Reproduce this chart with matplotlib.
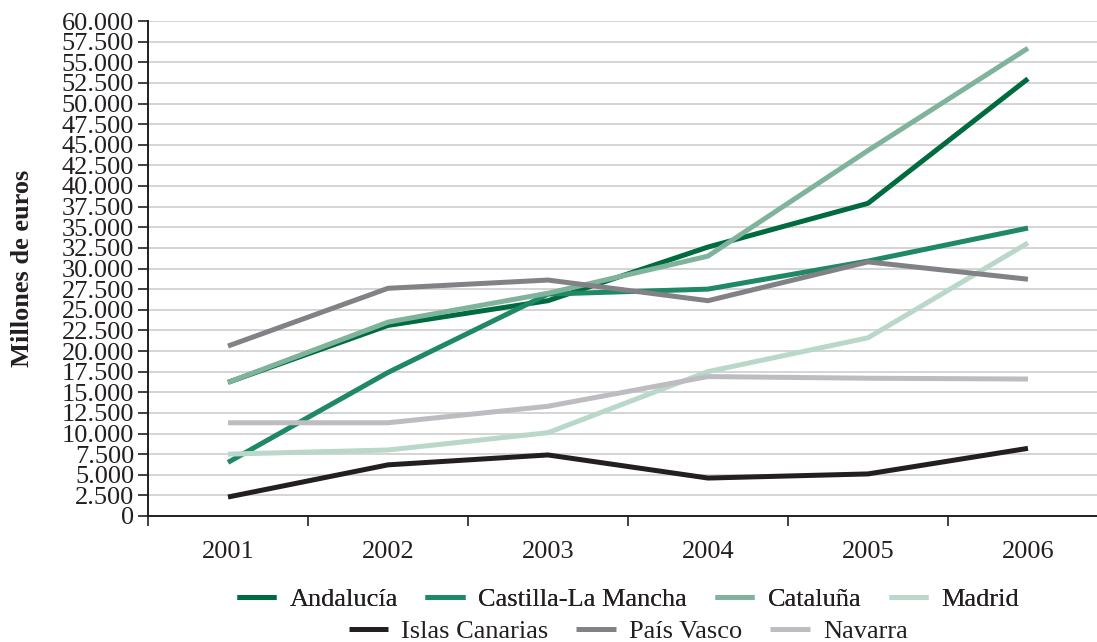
import matplotlib
matplotlib.use("Agg")
from matplotlib import pyplot as plt, ticker
import numpy as np

years = ['2001', '2002', '2003', '2004', '2005', '2006']

andalucia = [16200, 23100, 26100, 32600, 37900, 53000]
castilla = [6500, 17400, 26900, 27500, 30900, 34900]
cataluna = [16200, 23500, 27000, 31500, 44300, 56700]
madrid = [7500, 8000, 10100, 17500, 21600, 33100]
canarias = [2300, 6200, 7400, 4600, 5100, 8200]
pais_vasco = [20600, 27600, 28600, 26100, 30800, 28700]
navarra = [11300, 11300, 13300, 16900, 16700, 16600]

series = [
    ('Andalucía', andalucia, '#006b3f'),
    ('Castilla-La Mancha', castilla, '#1f8865'),
    ('Cataluña', cataluna, '#80b39c'),
    ('Madrid', madrid, '#b9d8c9'),
    ('Islas Canarias', canarias, '#231f20'),
    ('País Vasco', pais_vasco, '#828286'),
    ('Navarra', navarra, '#bdbdc1'),
]

plt.rcParams['font.family'] = ['Liberation Serif', 'DejaVu Serif']

fig = plt.figure(figsize=(10.97, 6.42), dpi=100)
ax = fig.add_axes([148/1097, 1 - 516/642, 1 - 148/1097 + 0.01, (516 - 21)/642])

x = np.arange(len(years))
handles = []
for name, vals, col in series:
    h, = ax.plot(x, vals, color=col, lw=3.6, solid_capstyle='butt', label=name, zorder=3)
    handles.append(h)

ax.set_ylim(0, 60000)
ax.set_xlim(-0.5, 5.5)
ax.yaxis.set_major_locator(ticker.MultipleLocator(2500))
ax.yaxis.set_major_formatter(ticker.FuncFormatter(
    lambda v, p: '0' if v == 0 else f'{int(v):,}'.replace(',', '.')))
ax.grid(axis='y', color='#d4d4d4', lw=1.4, zorder=0)
ax.set_axisbelow(True)

# category boundaries get the tick marks, year labels sit between them
ax.xaxis.set_major_locator(ticker.FixedLocator(np.arange(-0.5, 5.0, 1.0)))
ax.xaxis.set_major_formatter(ticker.NullFormatter())
ax.xaxis.set_minor_locator(ticker.FixedLocator(x))
ax.xaxis.set_minor_formatter(ticker.FixedFormatter(years))
ax.tick_params(axis='x', which='major', direction='out', length=7, width=1.2, color='#231f20')
ax.tick_params(axis='x', which='minor', length=0, pad=18, labelsize=19, labelcolor='#231f20')
ax.tick_params(axis='y', direction='out', length=7, width=1.2, color='#231f20',
               labelsize=19, labelcolor='#231f20', pad=3)

for s in ['top', 'right']:
    ax.spines[s].set_visible(False)
for s in ['left', 'bottom']:
    ax.spines[s].set_color('#231f20')
    ax.spines[s].set_linewidth(1.4)

fig.text(23/1097, 1 - 268/642, 'Millones de euros', rotation=90, fontsize=19,
         fontweight='bold', ha='center', va='center', color='#231f20')

leg_kw = dict(loc='center', frameon=False, fontsize=19, handlelength=1.5,
              handletextpad=0.5, columnspacing=1.05, labelcolor='#231f20')
leg1 = fig.legend(handles[:4], [s[0] for s in series[:4]],
                  bbox_to_anchor=(628/1097, 1 - 599/642), ncol=4, **leg_kw)
leg2 = fig.legend(handles[4:], [s[0] for s in series[4:]],
                  bbox_to_anchor=(628/1097, 1 - 631/642), ncol=3, **leg_kw)
fig.add_artist(leg1)

fig.savefig('out.png', dpi=100)
